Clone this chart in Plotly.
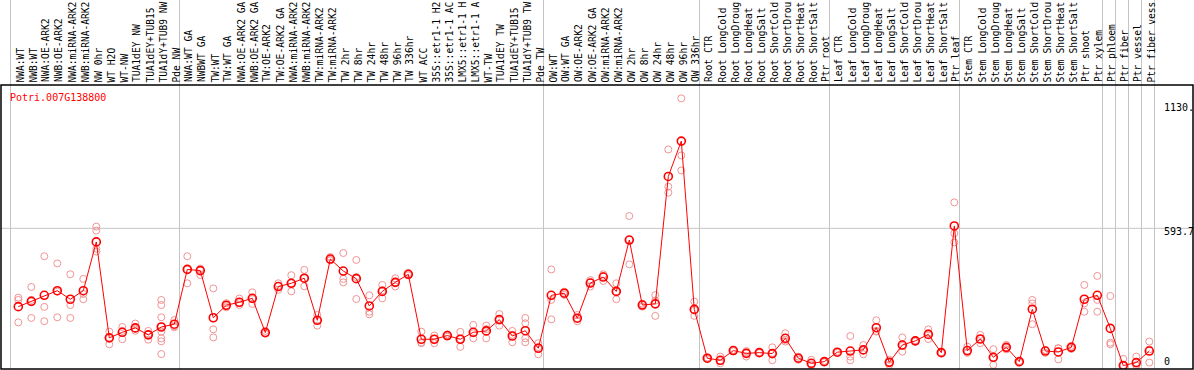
import plotly.graph_objects as go

labels = [
    "NWA:WT", "NWB:WT", "NWA:OE-ARK2", "NWB:OE-ARK2", "NWA:miRNA-ARK2", "NWB:miRNA-ARK2",
    "NW 0hr", "WT H2O", "WT-NW", "TUA1dEY NW", "TUA1dEY+TUB15", "TUA1dY+TUB9 NW", "Pde NW",
    "NWA:WT GA", "NWBWT GA", "TW:WT", "TW:WT GA", "NWA:OE-ARK2 GA", "NWB:OE-ARK2 GA",
    "TW:OE-ARK2", "TW:OE-ARK2 GA", "NWA:miRNA-ARK2", "NWB:miRNA-ARK2", "TW:miRNA-ARK2",
    "TW:miRNA-ARK2", "TW 2hr", "TW 8hr", "TW 24hr", "TW 48hr", "TW 96hr", "TW 336hr",
    "WT ACC", "35S::etr1-1 H2", "35S::etr1-1 AC", "LMX5::etr1-1 H", "LMX5::etr1-1 A",
    "WT-TW", "TUA1dEY TW", "TUA1dEY+TUB15", "TUA1dY+TUB9 TW", "Pde TW",
    "OW:WT", "OW:WT GA", "OW:OE-ARK2", "OW:OE-ARK2 GA", "OW:miRNA-ARK2", "OW:miRNA-ARK2",
    "OW 2hr", "OW 8hr", "OW 24hr", "OW 48hr", "OW 96hr", "OW 336hr",
    "Root CTR", "Root LongCold", "Root LongDroug", "Root LongHeat", "Root LongSalt",
    "Root ShortCold", "Root ShortDrou", "Root ShortHeat", "Root ShortSalt", "Ptr root",
    "Leaf CTR", "Leaf LongCold", "Leaf LongDroug", "Leaf LongHeat", "Leaf LongSalt",
    "Leaf ShortCold", "Leaf ShortDrou", "Leaf ShortHeat", "Leaf ShortSalt", "Ptr leaf",
    "Stem CTR", "Stem LongCold", "Stem LongDroug", "Stem LongHeat", "Stem LongSalt",
    "Stem ShortCold", "Stem ShortDrou", "Stem ShortHeat", "Stem ShortSalt", "Ptr shoot",
    "Ptr xylem", "Ptr phloem", "Ptr fiber", "Ptr vessel", "Ptr fiber vess",
]

means = [
    255, 278, 304, 324, 287, 324, 535, 120, 144, 163, 133, 167, 179,
    416, 411, 207, 261, 274, 291, 143, 342, 356, 378, 196, 461, 409, 376, 258, 321, 360,
    395, 114, 114, 130, 114, 144, 150, 199, 128, 151, 75,
    304, 313, 205, 357, 383, 321, 543, 262, 267, 818, 971, 243,
    32, 23, 65, 53, 56, 52, 118, 32, 10, 17,
    58, 63, 68, 164, 14, 89, 107, 135, 56, 604,
    65, 115, 36, 79, 17, 244, 63, 59, 79, 287, 304,
    161, 0, 13, 63,
]

replicates = [
    [284, 294, 187], [340, 284, 206], [473, 254, 192], [442, 320, 209], [395, 262, 206],
    [375, 287, 310], [601, 584, 493, 505], [147, 120, 92], [167, 150, 114], [182, 151, 160],
    [150, 135, 112], [284, 262, 209, 170, 147, 118, 105, 50], [197, 170, 166],
    [473, 416, 356], [392, 420, 415], [334, 157, 122], [270, 252, 258], [290, 262, 270],
    [317, 267, 288], [150, 140, 138], [356, 328, 345], [391, 321, 356], [414, 343, 378],
    [219, 173, 196], [470, 455, 458], [487, 375, 360], [457, 288, 383], [304, 233, 222],
    [349, 291, 325], [378, 342, 360], [400, 390, 395], [147, 97, 100], [130, 97, 115],
    [135, 125, 130], [146, 81, 115], [176, 118, 140], [173, 118, 158], [223, 173, 201],
    [150, 101, 133], [206, 183, 118, 101], [97, 49, 80],
    [416, 284, 200], [320, 306, 313], [219, 192, 205], [370, 342, 360], [395, 366, 388],
    [356, 287, 320], [647, 438, 545], [255, 268, 263], [305, 215, 281], [935, 774, 748],
    [1156, 909, 844], [277, 215, 240],
    [35, 28, 33], [39, 10, 20], [68, 62, 65], [57, 39, 63], [58, 54, 56], [79, 23, 54],
    [140, 104, 110], [39, 25, 32], [25, 0, 5], [20, 14, 17],
    [60, 55, 59], [128, 39, 23], [89, 49, 66], [196, 147, 150], [25, 3, 14], [122, 60, 85],
    [110, 104, 107], [157, 115, 140], [58, 54, 56], [706, 572, 533],
    [82, 55, 58], [133, 97, 115], [71, 3, 34], [90, 70, 77], [20, 14, 17], [284, 269, 179],
    [67, 55, 67], [75, 27, 75], [85, 72, 80], [349, 269, 233], [388, 284, 233],
    [301, 99, 92], [29, 0, 2], [39, 0, 2], [104, 13, 70],
]

group_bounds = [0, 13, 41, 53, 63, 73, 84, 85, 86, 87, 88]
axis_ticks = [0, 593.7, 1130]
axis_ticktext = ["0", "593.7", "1130."]
gene = "Potri.007G138800"

# ---- geometry (pixels -> axis units) ----
W, H = 1194, 370
ML, MR, MT, MB = 1, 1, 85, 1
COL_PX, COL0_PX = 13.0, 10.5
xr = [(ML - COL0_PX) / COL_PX, (W - MR - COL0_PX) / COL_PX]
Y0_PX, K = 365.6, 0.2312
yr = [(Y0_PX - (H - MB)) / K, (Y0_PX - MT) / K]
plot_h = H - MT - MB

def xpaper(u):
    return (u - xr[0]) / (xr[1] - xr[0])

FONT = "DejaVu Sans Mono"
centers = [i + 0.5 for i in range(len(labels))]
pts_x = [c + 0.1 for c in centers]

rx, ry = [], []
for c, reps in zip(pts_x, replicates):
    for r in reps:
        rx.append(c)
        ry.append(r)

fig = go.Figure()
fig.add_trace(go.Scatter(
    x=rx, y=ry, mode="markers", hoverinfo="skip",
    marker=dict(symbol="circle-open", size=7, color="rgb(240,148,148)", line=dict(width=1)),
))
fig.add_trace(go.Scatter(
    x=pts_x, y=means, mode="lines+markers",
    line=dict(color="#ff0000", width=1),
    marker=dict(symbol="circle-open", size=8, color="#ff0000", line=dict(width=1.6)),
))

shapes = []
top_paper = 1 + MT / plot_h
for b in group_bounds:
    shapes.append(dict(type="line", xref="paper", yref="paper", x0=xpaper(b), x1=xpaper(b),
                       y0=0, y1=top_paper, line=dict(color="#c4c4c4", width=1), layer="below"))
shapes.append(dict(type="line", xref="paper", yref="y", x0=0, x1=1, y0=axis_ticks[1], y1=axis_ticks[1],
                   line=dict(color="#c4c4c4", width=1), layer="below"))
shapes.append(dict(type="rect", xref="paper", yref="paper", x0=0, x1=1, y0=0, y1=1,
                   line=dict(color="black", width=1.5)))

annotations = [dict(
    text=gene, xref="paper", yref="paper", x=xpaper((9.0 - COL0_PX) / COL_PX), y=(H - MB - 97.3) / plot_h,
    xanchor="left", yanchor="middle", showarrow=False, borderpad=0,
    font=dict(family=FONT, size=10, color="#ff0000"),
)]
label_u = (1163.0 - COL0_PX) / COL_PX
for v, t in zip(axis_ticks, axis_ticktext):
    annotations.append(dict(
        text=t, xref="x", yref="y", x=label_u, y=v, xanchor="left", yanchor="middle",
        yshift=4 if v == 0 else -3.4, showarrow=False, borderpad=0,
        font=dict(family=FONT, size=10, color="black"),
    ))
for c, t in zip(centers, labels):
    annotations.append(dict(
        text=t, xref="x", yref="paper", x=c, y=1, xanchor="center", yanchor="bottom",
        xshift=2.5, yshift=1.5, textangle=-90, showarrow=False, borderpad=0,
        font=dict(family=FONT, size=9.6, color="black"),
    ))

fig.update_layout(
    width=W, height=H, margin=dict(l=ML, r=MR, t=MT, b=MB, pad=0),
    paper_bgcolor="white", plot_bgcolor="white", showlegend=False,
    shapes=shapes, annotations=annotations,
    xaxis=dict(range=xr, showticklabels=False, ticks="", showgrid=False, zeroline=False,
               showline=False, automargin=False),
    yaxis=dict(range=yr, showticklabels=False, showgrid=False, zeroline=False, showline=False,
               automargin=False),
)

fig.write_html("out.html", config={"displayModeBar": False, "staticPlot": True},
               post_script="document.body.style.margin='0';document.body.style.padding='0';")
